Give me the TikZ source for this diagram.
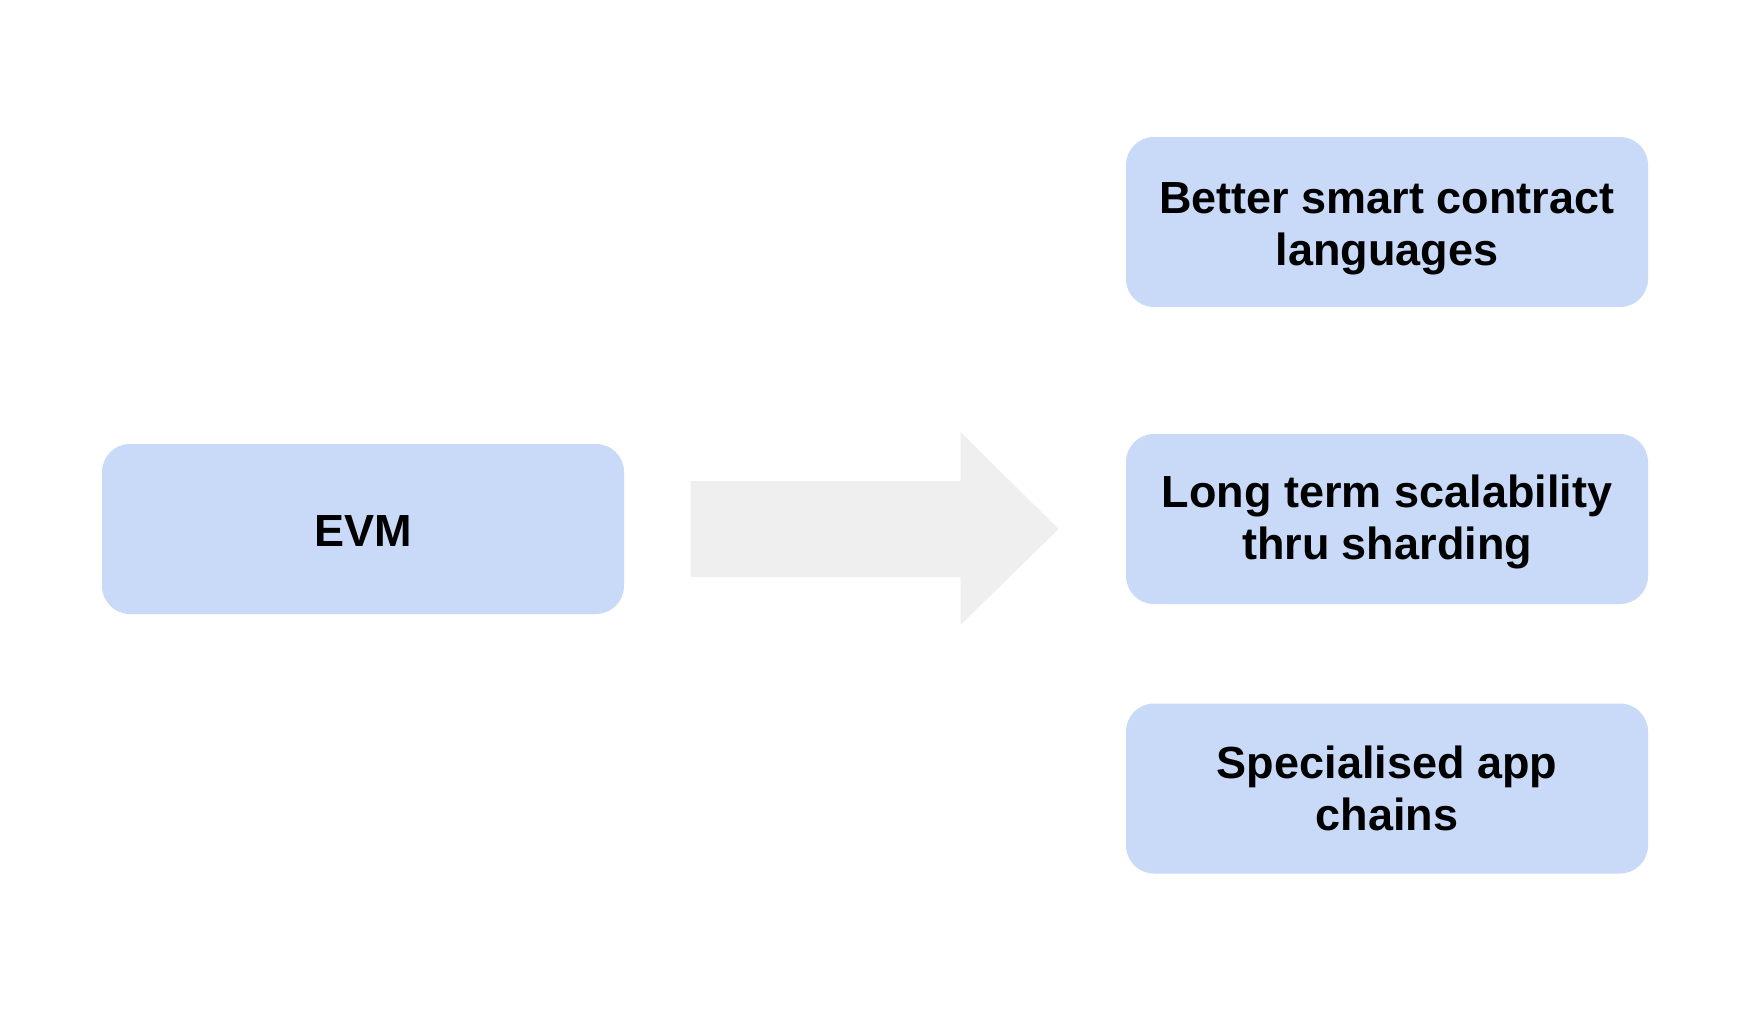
\documentclass[tikz,border=0pt]{standalone}
\usepackage{fontspec}
\setmainfont{Liberation Sans}
\definecolor{boxblue}{HTML}{C9DAF8}
\definecolor{arrowgray}{HTML}{EFEFEF}
\begin{document}
\begin{tikzpicture}[x=0.5pt,y=-0.5pt,
  box/.style={fill=boxblue, draw=none, rounded corners=14pt,
    minimum width=261pt, minimum height=85pt, inner sep=0pt},
  boxtext/.style={align=center, inner sep=0pt, font=\bfseries\fontsize{22.5}{26}\selectfont},
  bigarrow/.style={fill=arrowgray, draw=none}]
\fill[white] (0,0) rectangle (1738,1012);
\useasboundingbox (0,0) rectangle (1738,1012);
\begin{scope}[shift={(-3.5,-2)}]
\node[box, label={[boxtext, yshift=-1pt]center:EVM}] (evm) at (366.5,531) {};
\node[box, label={[boxtext, yshift=-3.5pt]center:{Better smart contract\\languages}}] (lang) at (1390.5,224) {};
\node[box, label={[boxtext, yshift=-1.5pt]center:{Long term scalability\\thru sharding}}] (shard) at (1390.5,521) {};
\node[box, label={[boxtext]center:{Specialised app\\chains}}] (chains) at (1390.5,790.5) {};
\coordinate (tip) at (1062,531);
\fill[bigarrow] (694,483) -- (964,483) -- (964,434) -- (tip) -- (964,627) -- (964,579) -- (694,579) -- cycle;
\end{scope}
\end{tikzpicture}
\end{document}
